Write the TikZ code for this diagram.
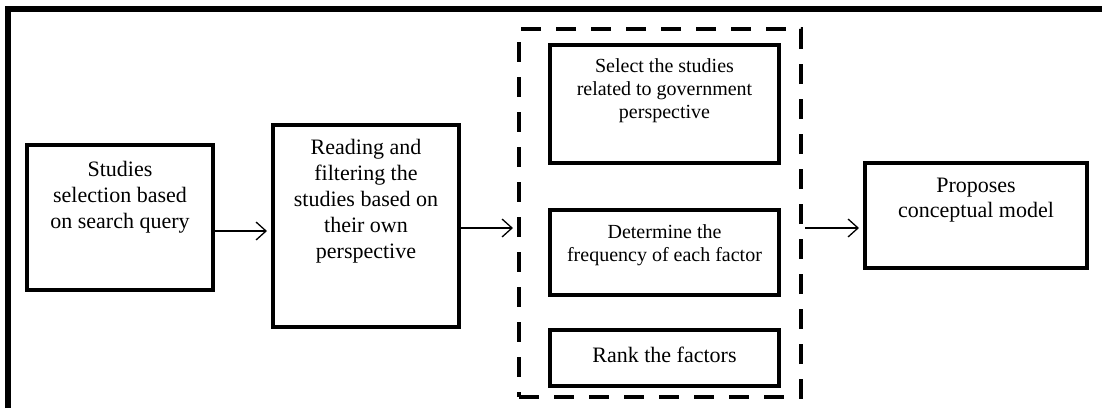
\documentclass[tikz,border=0pt]{standalone}
\usepackage{fontspec}
\setmainfont{Liberation Serif}
\usetikzlibrary{arrows.meta}

\begin{document}
\begin{tikzpicture}
[x=0.5pt,y=-0.5pt,%
  stage/.style={draw,line width=2pt,inner sep=0pt,minimum width=93pt},%
  step box/.style={stage,minimum width=114.5pt},%
  caption/.style={align=center,inner sep=0pt,font=\fontsize{11}{13}\selectfont},%
  small caption/.style={caption,font=\fontsize{10}{11.5}\selectfont},%
  flow/.style={-{Straight Barb[length=5pt,width=9pt]},line width=0.65pt}]
\useasboundingbox (0,0) rectangle (1102,408);
\draw[line width=2.75pt] (8,408) -- (8,9) -- (1102,9);
\node[stage,minimum height=72.5pt] (query) at (120,217.5) {};
\node[caption] (query text) at ([yshift=10.25pt]query.center)
  {Studies\\selection based\\on search query};
\node[stage,minimum height=101pt] (filter) at (366,226) {};
\node[caption] (filter text) at ([yshift=12.5pt]filter.center)
  {Reading and\\filtering the\\studies based on\\their own\\perspective};
\node[draw,dash pattern=on 10pt off 7.5pt,line width=2pt,inner sep=0pt,%
  minimum width=141pt,minimum height=184pt] (group) at (660,213) {};
\node[step box,minimum height=59pt] (select) at (664.5,104) {};
\node[small caption] (select text) at ([yshift=6.5pt]select.center)
  {Select the studies\\related to government\\perspective};
\node[step box,minimum height=42.5pt] (freq) at (664.5,252.5) {};
\node[small caption] (freq text) at ([yshift=3.75pt]freq.center)
  {Determine the\\frequency of each factor};
\node[step box,minimum height=28pt] (rank) at (664.5,358) {};
\node[caption] (rank text) at ([yshift=1.5pt]rank.center) {Rank the factors};
\node[stage,minimum width=111pt,minimum height=52.5pt] (model) at (976,215.5) {};
\node[caption,font=\fontsize{11}{12.5}\selectfont] (model text)
  at ([yshift=7.75pt]model.center) {Proposes\\conceptual model};
\coordinate (a1) at ([yshift=-6.75pt]query.east);
\coordinate (a2) at ([yshift=-1pt]filter.east);
\draw[flow,shorten >=2pt] (a1) -- (a1 -| filter.west);
\draw[flow,shorten >=2pt] (a2) -- (a2 -| group.west);
\draw[flow,shorten <=1pt,shorten >=2pt] (a2 -| group.east) -- (a2 -| model.west);
\end{tikzpicture}
\end{document}
